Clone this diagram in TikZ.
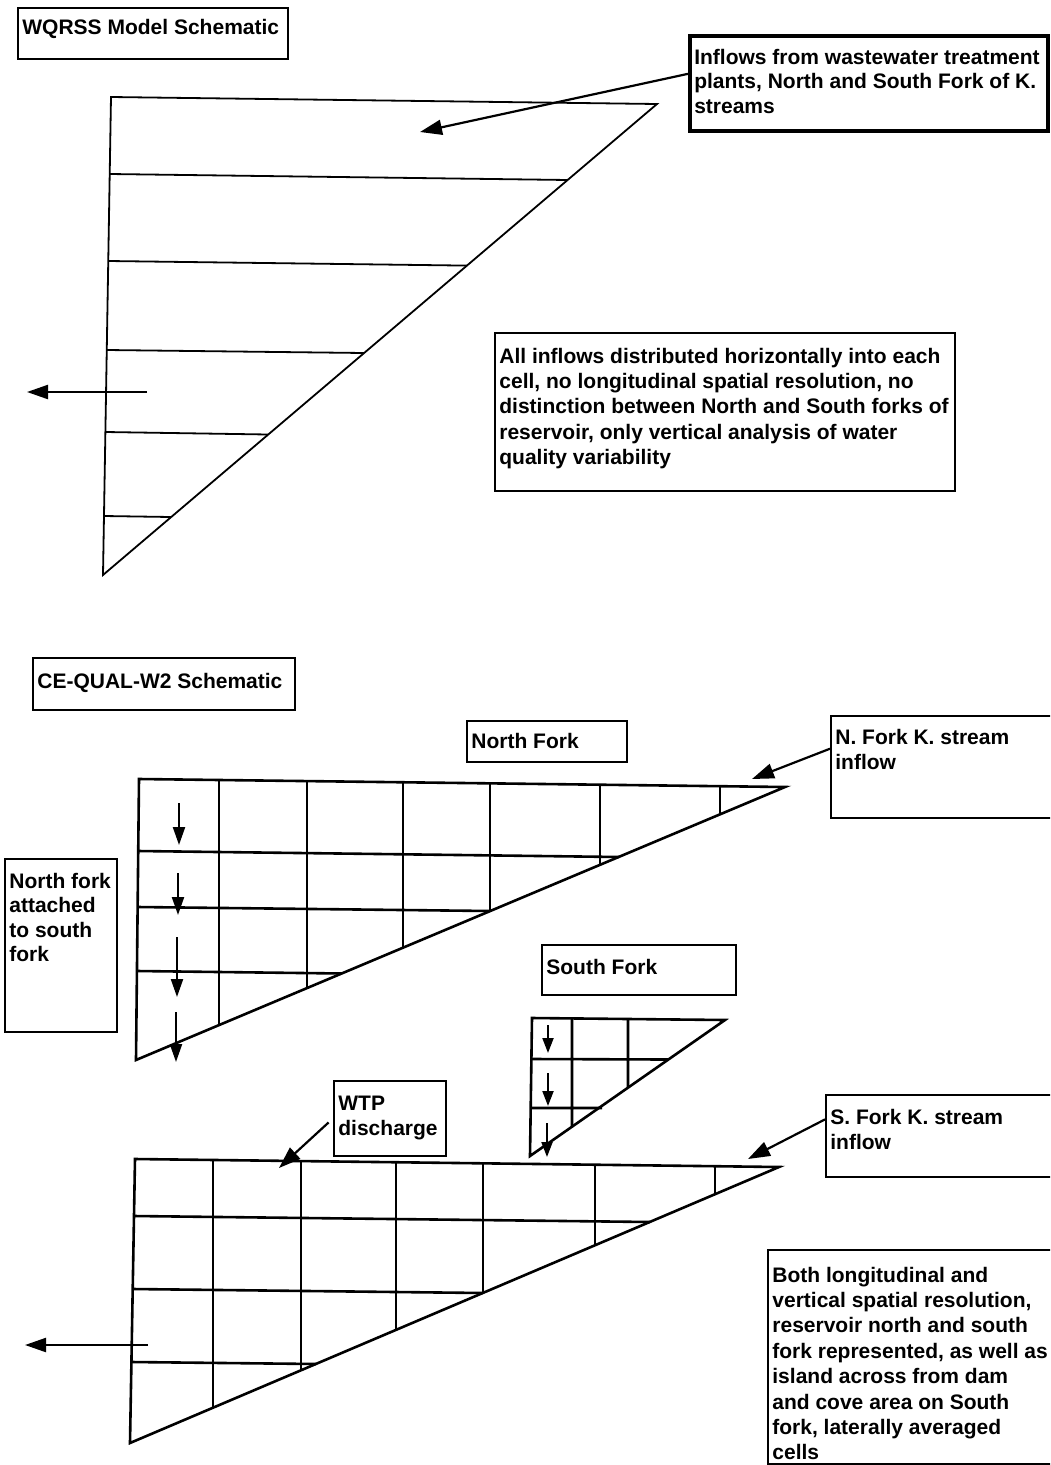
\documentclass[tikz,border=0pt]{standalone}
\usepackage{fontspec}
\setmainfont{Liberation Sans}
\usetikzlibrary{arrows.meta}

\tikzset{
  labelbox/.style={draw,line width=1.8pt,inner sep=0pt,anchor=north west,font=\bfseries},
  wall/.style={line width=1.8pt,line join=miter},
  cellgrid/.style={line width=2.6pt,line join=miter},
  feedarrow/.style={line width=2.2pt,-{Triangle[length=22pt,width=15pt]}},
  outarrow/.style={line width=2.2pt,-{Triangle[length=21pt,width=14pt]}},
  sinkarrow/.style={line width=2.2pt,-{Triangle[length=18pt,width=12pt]}},
  minisink/.style={line width=2pt,-{Triangle[length=15pt,width=11pt]}}
}
% 枠の中に左上揃えで文字を置く（幅, 高さ, 上余白, 本文）
\newcommand{\boxtext}[5][25.4pt]{%
  \parbox[c][#3][t]{#2}{\fontsize{21pt}{#1}\selectfont\raggedright\leftskip=4.5pt\vspace*{#4}#5}}

\begin{document}
\begin{tikzpicture}[x=1pt,y=-1pt]
  \clip (0,0) rectangle (1050,1465); % 画像全体の範囲
  \fill[white] (0,0) rectangle (1050,1465); % 背景

  % ---- 上段：WQRSS ----
  \node[labelbox] (wqrss) at (17,7) {\boxtext{270pt}{51pt}{11pt}{WQRSS Model Schematic}}; % 表題
  \node[labelbox,line width=3.6pt] (inflow) at (688,34)
    {\boxtext[24.5pt]{358pt}{95pt}{13pt}{Inflows from wastewater treatment\\plants, North and South Fork of K.\\streams}}; % 流入の説明（太枠）
  \node[labelbox] (uniform) at (494,332)
    {\boxtext{460pt}{158pt}{15pt}{All inflows distributed horizontally into each\\cell, no longitudinal spatial resolution, no\\distinction between North and South forks of\\reservoir, only vertical analysis of water\\quality variability}}; % 鉛直一次元の説明

  \draw[wall] (111,97) -- (657,104) -- (103,575) -- cycle; % 貯水池の三角形断面
  \draw[wall] (109.7,174) -- (568,180)
              (108.3,261) -- (467,265.6)
              (106.8,350) -- (364,353)
              (105.4,432) -- (268,434.5)
              (104,516) -- (171,517); % 水平な層の境界
  \coordinate (feedtip) at (420,132);
  \draw[feedarrow] (inflow.177) -- (feedtip); % 表層への流入
  \coordinate (damin) at (147,392);
  \coordinate (damout) at (27,392);
  \draw[outarrow] (damin) -- (damout); % ダムからの放流

  % ---- 下段：CE-QUAL-W2 ----
  \node[labelbox] (cequal) at (32,657) {\boxtext{262pt}{52pt}{15pt}{CE-QUAL-W2 Schematic}}; % 表題
  \node[labelbox] (northlbl) at (466,720) {\boxtext{160pt}{41pt}{12pt}{North Fork}};
  \node[labelbox] (nfin) at (830,715) {\boxtext{228pt}{102pt}{13pt}{N. Fork K. stream\\inflow}};
  \node[labelbox] (attach) at (4,858)
    {\boxtext[24.5pt]{112pt}{173pt}{14pt}{North fork\\attached\\to south\\fork}};
  \node[labelbox] (southlbl) at (541,944) {\boxtext{194pt}{50pt}{14pt}{South Fork}};
  \node[labelbox] (wtp) at (333,1080) {\boxtext{112pt}{75pt}{15pt}{WTP\\discharge}};
  \node[labelbox] (sfin) at (825,1094) {\boxtext{233pt}{82pt}{14pt}{S. Fork K. stream\\inflow}};
  \node[labelbox] (both) at (767,1249)
    {\boxtext{291pt}{214pt}{17pt}{Both longitudinal and\\vertical spatial resolution,\\reservoir north and south\\fork represented, as well as\\island across from dam\\and cove area on South\\fork, laterally averaged\\cells}};

  % 北支川の格子
  \draw[cellgrid] (139,779) -- (785,787) -- (136,1060) -- cycle;
  \draw[cellgrid] (138.2,851) -- (619,857)
                  (137.6,907) -- (490,911)
                  (137,971) -- (342,973.5); % 層
  \draw[cellgrid] (219,780) -- (219,1025)
                  (307,781) -- (307,988)
                  (403,782) -- (403,947.7)
                  (490,783.5) -- (490,911)
                  (600,784.7) -- (600,864.8)
                  (720,786) -- (720,814.3); % 区間
  \draw[sinkarrow] (179,803) -- (179,845);
  \draw[sinkarrow] (178,873) -- (178,915);
  \draw[sinkarrow] (177,937) -- (177,997);
  \draw[sinkarrow] (176,1012) -- (176,1062); % 南支川への接続
  \coordinate (nftip) at (752,779);
  \draw[feedarrow] (nfin.171) -- (nftip);

  % 南支川の入江（小さい格子）
  \draw[cellgrid] (532,1018) -- (725,1020) -- (530,1156) -- cycle;
  \draw[cellgrid] (531.7,1059) -- (668,1059.5)
                  (531,1108) -- (602,1108)
                  (572,1018.5) -- (572,1126.7)
                  (628,1019) -- (628,1087.6);
  \draw[minisink] (548,1025) -- (548,1053);
  \draw[minisink] (548,1073) -- (548,1106);
  \draw[minisink] (547,1123) -- (547,1157);

  % 南支川の格子
  \draw[cellgrid] (135,1159) -- (779,1167) -- (130,1443) -- cycle;
  \draw[cellgrid] (134,1216) -- (650,1222)
                  (132.7,1289) -- (483,1293)
                  (131.4,1362) -- (316,1364); % 層
  \draw[cellgrid] (213,1160) -- (213,1408)
                  (301,1161) -- (301,1370.5)
                  (396,1162) -- (396,1330)
                  (483,1163) -- (483,1293)
                  (595,1165) -- (595,1245)
                  (715,1166.5) -- (715,1194); % 区間
  \coordinate (wtptip) at (279,1168);
  \draw[feedarrow,shorten <=6pt] (wtp.west) -- (wtptip); % 浄水場の排水
  \coordinate (sftip) at (748,1159);
  \draw[feedarrow] (sfin.172) -- (sftip);
  \coordinate (dam2in) at (148,1345);
  \coordinate (dam2out) at (25,1345);
  \draw[outarrow] (dam2in) -- (dam2out); % ダムからの放流
\end{tikzpicture}
\end{document}
